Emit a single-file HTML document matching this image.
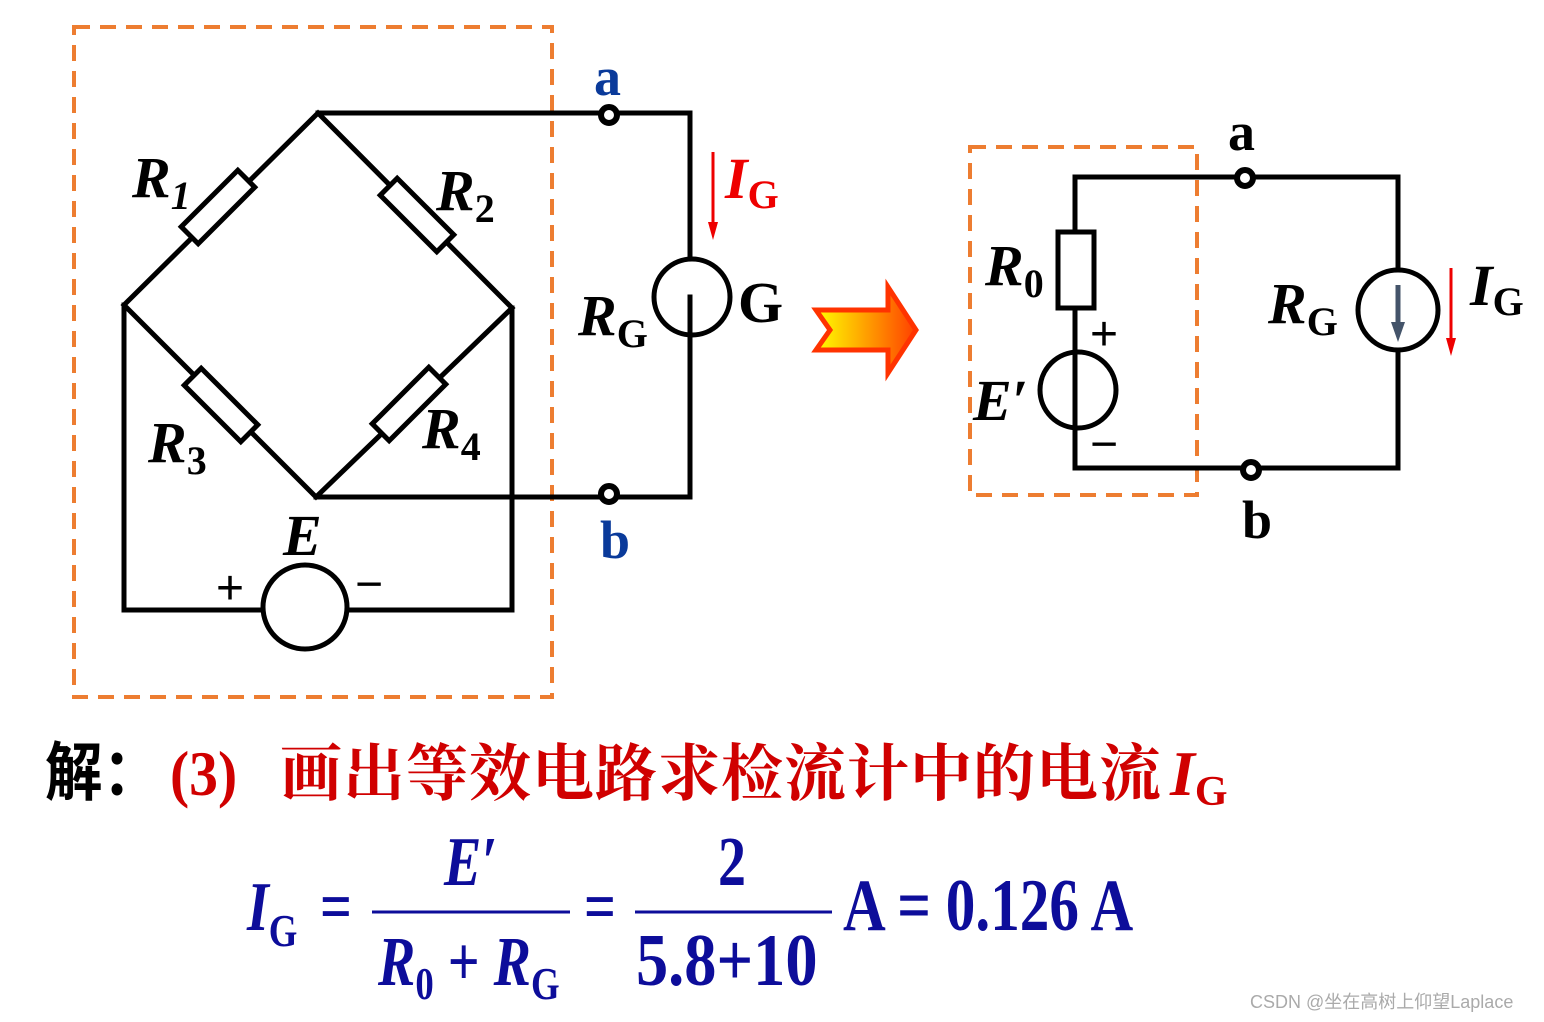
<!DOCTYPE html>
<html><head><meta charset="utf-8"><style>
html,body{margin:0;padding:0;background:#fff;}
svg{display:block}
.lb{font-family:"Liberation Serif",serif;font-weight:bold;}
</style></head><body>
<svg width="1544" height="1022" viewBox="0 0 1544 1022" xmlns="http://www.w3.org/2000/svg">
<defs>
<linearGradient id="gr" x1="0" x2="1" y1="0" y2="0"><stop offset="0" stop-color="#ffff00"/><stop offset="1" stop-color="#ff4000"/></linearGradient>
</defs>
<g fill="none" stroke="#ed7d31" stroke-width="4" stroke-dasharray="16,10">
<rect x="74" y="27" width="478" height="670"/>
<rect x="970" y="147" width="227" height="348"/>
</g>
<g fill="none" stroke="#000" stroke-width="5" stroke-linecap="square">
<polyline points="124,305 318,113 512,308 316,497 124,305"/>
<polyline points="318,113 690,113 690,497 316,497"/>
<polyline points="124,305 124,610 512,610 512,308"/>
<circle cx="692" cy="297" r="38" fill="#fff"/>
<circle cx="305" cy="607" r="42" fill="#fff"/>
<g fill="#fff">
<rect x="-40" y="-12" width="80" height="24" transform="translate(218,207) rotate(-45)"/>
<rect x="-40" y="-12" width="80" height="24" transform="translate(417,215) rotate(45)"/>
<rect x="-40" y="-12" width="80" height="24" transform="translate(221,405) rotate(45)"/>
<rect x="-40" y="-12" width="80" height="24" transform="translate(409,404) rotate(-45)"/>
</g>
<line x1="690" y1="297" x2="690" y2="330"/>
<polyline points="1075,468 1075,177 1398,177 1398,468 1075,468"/>
<rect x="1058" y="232" width="36" height="76" fill="#fff"/>
<ellipse cx="1078" cy="390" rx="38" ry="38" fill="none"/>
<circle cx="1398" cy="310" r="40" fill="#fff"/>
</g>
<g fill="#fff" stroke="#000" stroke-width="6">
<circle cx="609" cy="115" r="8"/><circle cx="609" cy="494" r="8"/>
<circle cx="1245" cy="178" r="8"/><circle cx="1251" cy="470" r="8"/>
</g>
<line x1="1398" y1="285" x2="1398" y2="325" stroke="#44546a" stroke-width="5"/>
<polygon points="1391,322 1405,322 1398,342" fill="#44546a"/>
<line x1="713" y1="152" x2="713" y2="225" stroke="#e00" stroke-width="3"/>
<polygon points="708,222 718,222 713,240" fill="#e00"/>
<line x1="1451" y1="268" x2="1451" y2="342" stroke="#e00" stroke-width="3"/>
<polygon points="1446,338 1456,338 1451,356" fill="#e00"/>
<polygon points="816,310 888,310 888,287 916,330 888,373 888,350 816,350 830,330" fill="url(#gr)" stroke="#ff3300" stroke-width="5"/>
<g class="lb" font-style="italic" fill="#000" font-size="58">
<text x="132" y="197">R<tspan font-size="40" dy="12">1</tspan></text>
<text x="436" y="210">R<tspan font-size="40" dy="12" font-style="normal">2</tspan></text>
<text x="148" y="462">R<tspan font-size="40" dy="12" font-style="normal">3</tspan></text>
<text x="422" y="448">R<tspan font-size="40" dy="12" font-style="normal">4</tspan></text>
<text x="578" y="335">R<tspan font-size="40" dy="12" font-style="normal">G</tspan></text>
<text x="283" y="555">E</text>
<text x="985" y="285">R<tspan font-size="40" dy="12" font-style="normal">0</tspan></text>
<text x="1268" y="323">R<tspan font-size="40" dy="12" font-style="normal">G</tspan></text>
<text x="973" y="420">E′</text>
<text x="1470" y="305">I<tspan font-size="40" dy="10" font-style="normal">G</tspan></text>
</g>
<text class="lb" x="725" y="198" font-size="58" font-style="italic" fill="#e00">I<tspan font-size="40" dy="10" font-style="normal">G</tspan></text>
<text class="lb" x="738" y="322" font-size="58" fill="#000">G</text>
<g class="lb" font-size="54" fill="#0a3a9a">
<text x="594" y="95">a</text><text x="600" y="558">b</text>
</g>
<g class="lb" font-size="54" fill="#000">
<text x="1228" y="150">a</text><text x="1242" y="538">b</text>
</g>
<g font-family="Liberation Sans,sans-serif" font-size="48" fill="#000">
<text x="216" y="604">+</text><text x="355" y="600">−</text>
<text x="1090" y="350">+</text><text x="1090" y="460">−</text>
</g>
<g transform="translate(45,795) scale(0.9,1)">
<text font-family="'Noto Sans CJK SC',sans-serif" font-weight="bold" font-size="64" fill="#000">解：</text>
</g>
<text x="170" y="795" font-family="'Liberation Serif',serif" font-weight="bold" font-size="64" fill="#d00000" transform="translate(170,0) scale(0.9,1) translate(-170,0)">(3)</text>
<text x="280" y="795" font-family="'Noto Serif CJK SC','Noto Sans CJK SC',serif" font-weight="bold" font-size="62" letter-spacing="1" fill="#d00000">画出等效电路求检流计中的电流</text>
<text class="lb" x="1170" y="795" font-size="64" font-style="italic" fill="#d00000">I<tspan font-size="42" dy="10" font-style="normal">G</tspan></text>
<g class="lb" fill="#0d0d9a">
<g transform="translate(247,930) scale(0.8,1)"><text font-size="70" font-style="italic">I<tspan font-size="46" dy="16" font-style="normal">G</tspan></text></g>
<g transform="translate(320,930) scale(0.8,1)"><text font-size="70">=</text></g>
<line x1="372" y1="912" x2="570" y2="912" stroke="#0d0d9a" stroke-width="3"/>
<g transform="translate(444,885) scale(0.8,1)"><text font-size="70" font-style="italic">E′</text></g>
<g transform="translate(378,985) scale(0.8,1)"><text font-size="70" font-style="italic">R<tspan font-size="46" dy="14" font-style="normal">0</tspan><tspan dy="-14" font-style="normal"> + </tspan>R<tspan font-size="46" dy="14" font-style="normal">G</tspan></text></g>
<g transform="translate(584,930) scale(0.8,1)"><text font-size="70">=</text></g>
<line x1="635" y1="912" x2="832" y2="912" stroke="#0d0d9a" stroke-width="3"/>
<g transform="translate(718,885) scale(0.8,1)"><text font-size="70">2</text></g>
<g transform="translate(636,985) scale(0.87,1)"><text font-size="74">5.8+10</text></g>
<g transform="translate(843,930) scale(0.8,1)"><text font-size="74">A = 0.126 A</text></g>
</g>
<text x="1250" y="1008" font-family="Liberation Sans,sans-serif" font-size="18" fill="#aaa">CSDN @坐在高树上仰望Laplace</text>
</svg>
</body></html>
